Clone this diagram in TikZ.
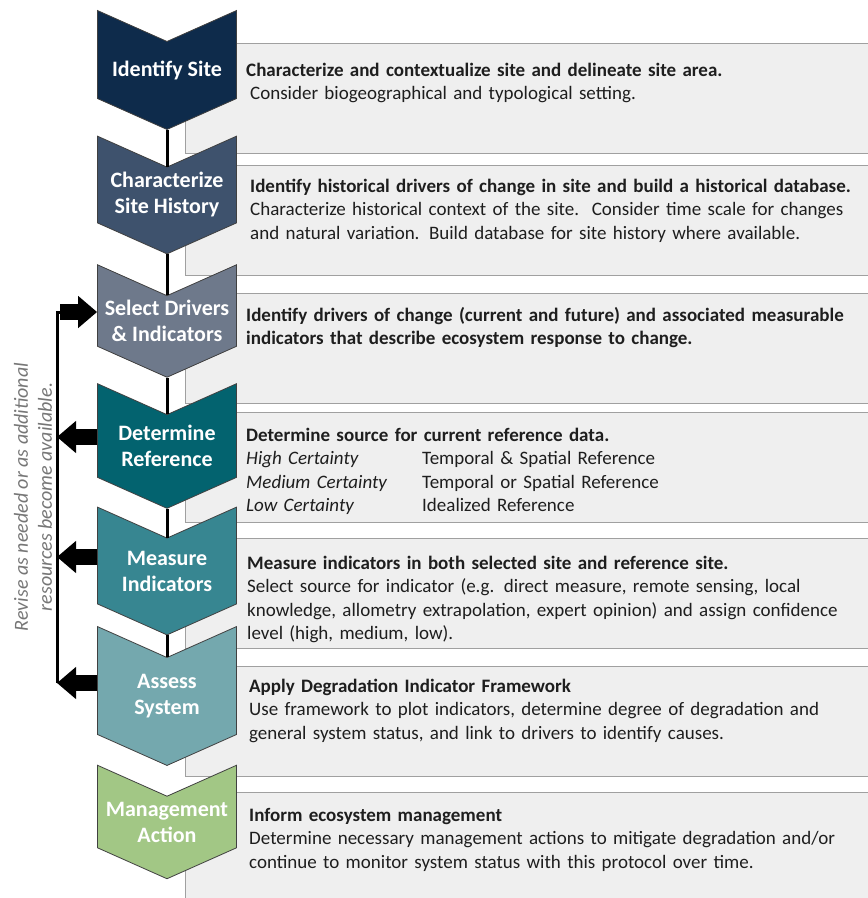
\documentclass[tikz,border=0pt]{standalone}
\usepackage{fontspec}
\setmainfont{Carlito}
\usepackage{tikz}
\usetikzlibrary{shapes.symbols, arrows.meta, positioning, calc}

\definecolor{siteCol}{RGB}{14, 43, 75}
\definecolor{histCol}{RGB}{62, 82, 109}
\definecolor{drvCol}{RGB}{110, 121, 139}
\definecolor{refCol}{RGB}{3, 99, 111}
\definecolor{measCol}{RGB}{55, 134, 145}
\definecolor{assessCol}{RGB}{116, 168, 174}
\definecolor{mgmtCol}{RGB}{162, 199, 133}
\definecolor{chevBorder}{RGB}{64, 64, 64}
\definecolor{boxFill}{RGB}{239, 239, 239}
\definecolor{boxBorder}{RGB}{160, 160, 160}
\definecolor{textDark}{RGB}{30, 30, 30}
\definecolor{noteGray}{RGB}{118, 118, 118}

\tikzstyle{chevron} = [signal, signal from=north, signal to=south, signal pointer angle=132, minimum width=139pt, minimum height=106pt, inner sep=0pt, draw=chevBorder, line width=0.8pt, text=white, align=center, font=\fontsize{22}{26}\selectfont\bfseries]
\tikzstyle{infobox} = [rectangle, anchor=north west, draw=boxBorder, fill=boxFill, line width=1.2pt, minimum width=720pt, minimum height=110pt]
\tikzstyle{info} = [anchor=base west, inner sep=0pt, align=left, text width=620pt, text=textDark, font=\fontsize{19}{23.5}\selectfont]
\tikzstyle{link} = [line width=3pt, black]
\tikzstyle{revarrow} = [line width=16pt, black, -{Triangle[length=19pt, width=31pt]}]
\newcommand{\certRow}[2]{\makebox[176pt][l]{\textit{#1}}#2}

\begin{document}
\begin{tikzpicture}[x=1pt, y=-1pt]
\useasboundingbox (0,0) rectangle (868,898);
\clip (0,0) rectangle (868,898);

% grey info boxes behind the chevrons
\node (siteBox) [infobox] at (185,43) {};
\node (histBox) [infobox] at (185,165) {};
\node (drvBox) [infobox] at (185,293) {};
\node (refBox) [infobox] at (185,412) {};
\node (measBox) [infobox] at (185,538) {};
\node (assessBox) [infobox] at (185,666) {};
\node (mgmtBox) [infobox] at (185,792) {};

% steps
\node (site) [chevron, fill=siteCol] at (167,70) {Identify Site};
\node (hist) [chevron, fill=histCol] at (167,195) {Characterize\\Site History};
\node (drv) [chevron, fill=drvCol] at (167,321) {Select Drivers\\\& Indicators};
\node (ref) [chevron, fill=refCol] at (167,446) {Determine\\Reference};
\node (meas) [chevron, fill=measCol] at (167,571) {Measure\\Indicators};
\node (assess) [chevron, fill=assessCol] at (167,696) {Assess\\System};
\node (mgmt) [chevron, fill=mgmtCol] at (167,822) {Management\\Action};

\draw [link] (site.south) -- (hist.north);
\draw [link] (hist.south) -- (drv.north);
\draw [link] (drv.south) -- (ref.north);
\draw [link] (ref.south) -- (meas.north);
\draw [link] (meas.south) -- (assess.north);

% step descriptions
\node (siteTxt) [info] at (246,76) {\textbf{Characterize and contextualize site and delineate site area.}\\
  \hspace*{4pt}Consider biogeographical and typological setting.};
\node (histTxt) [info] at (250,192) {\textbf{Identify historical drivers of change in site and build a historical database.}\\
  Characterize historical context of the site.\ \ Consider time scale for changes\\
  and natural variation. Build database for site history where available.};
\node (drvTxt) [info] at (246,321) {\textbf{Identify drivers of change (current and future) and associated measurable}\\
  \textbf{indicators that describe ecosystem response to change.}};
\node (refTxt) [info] at (246,441) {\textbf{Determine source for current reference data.}\\
  \certRow{High Certainty}{Temporal \& Spatial Reference}\\
  \certRow{Medium Certainty}{Temporal or Spatial Reference}\\
  \certRow{Low Certainty}{Idealized Reference}};
\node (measTxt) [info] at (247,569) {\textbf{Measure indicators in both selected site and reference site.}\\
  Select source for indicator (e.g. direct measure, remote sensing, local\\
  knowledge, allometry extrapolation, expert opinion) and assign confidence\\
  level (high, medium, low).};
\node (assessTxt) [info] at (249,692) {\textbf{Apply Degradation Indicator Framework}\\
  Use framework to plot indicators, determine degree of degradation and\\
  general system status, and link to drivers to identify causes.};
\node (mgmtTxt) [info] at (249,821) {\textbf{Inform ecosystem management}\\
  Determine necessary management actions to mitigate degradation and/or\\
  continue to monitor system status with this protocol over time.};

% revision loop
\coordinate (loopTop) at (60,312);
\coordinate (refOut) at (57,437);
\coordinate (measOut) at (57,557);
\coordinate (assessOut) at (57,683);
\draw [revarrow] (loopTop) -- (loopTop -| drv.west);
\draw [revarrow] (refOut -| ref.west) -- (refOut);
\draw [revarrow] (measOut -| meas.west) -- (measOut);
\draw [revarrow] (assessOut -| assess.west) -- (assessOut);
\draw [link] (loopTop) -| (assessOut);

\node (revNote) [rotate=90, align=center, text=noteGray, font=\fontsize{20}{24}\selectfont\itshape] at (33,497) {Revise as needed or as additional\\resources become available.};

\end{tikzpicture}
\end{document}
